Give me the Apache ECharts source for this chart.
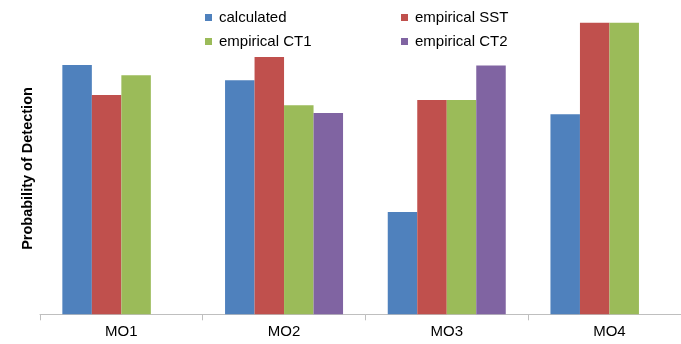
<!DOCTYPE html>
<html>
<head>
<meta charset="utf-8">
<script src="https://cdn.jsdelivr.net/npm/echarts@6/dist/echarts.min.js"></script>
<style>
  html, body { margin: 0; padding: 0; background: #fff; overflow: hidden; }
  /* the plot runs a little past the right edge of the window */
  #chart { width: 700px; height: 344px; }
</style>
</head>
<body>
<div id="chart"></div>
<script>
// Detection probability per method, for four test objects
const categories = ['MO1', 'MO2', 'MO3', 'MO4'];
const seriesNames = ['calculated', 'empirical SST', 'empirical CT1', 'empirical CT2'];
const calculated   = [0.855, 0.803, 0.351, 0.686];
const empiricalSST = [0.752, 0.882, 0.735, 1.0];
const empiricalCT1 = [0.820, 0.717, 0.735, 1.0];
const empiricalCT2 = [null, 0.690, 0.853, null];
const colors = ['#4F81BD', '#C0504D', '#9BBB59', '#8064A2'];

const values = [calculated, empiricalSST, empiricalCT1, empiricalCT2];
const font = 'Liberation Sans, sans-serif';

const chart = echarts.init(document.getElementById('chart'), null, { renderer: 'canvas' });

const legendCommon = {
  orient: 'vertical',
  itemWidth: 7,
  itemHeight: 7,
  itemGap: 9,
  icon: 'rect',
  padding: 0,
  selectedMode: false,
  textStyle: { fontFamily: font, fontSize: 15, color: '#000', padding: [0, 0, 0, 2] }
};

chart.setOption({
  animation: false,
  color: colors,
  legend: [
    Object.assign({}, legendCommon, { left: 205, top: 10, data: [seriesNames[0], seriesNames[2]] }),
    Object.assign({}, legendCommon, { left: 401, top: 10, data: [seriesNames[1], seriesNames[3]] })
  ],
  grid: { left: 40, top: 22.7, width: 650.8, height: 291.6, containLabel: false },
  xAxis: {
    type: 'category',
    data: categories,
    boundaryGap: true,
    axisLine: { lineStyle: { color: '#BFBFBF', width: 1 } },
    axisTick: { show: true, length: 6, lineStyle: { color: '#BFBFBF' } },
    axisLabel: { fontFamily: font, fontSize: 15, color: '#000', margin: 10 }
  },
  yAxis: {
    type: 'value',
    min: 0,
    max: 1,
    name: 'Probability of Detection',
    nameLocation: 'middle',
    nameRotate: 90,
    nameGap: 5,
    nameTextStyle: { fontFamily: font, fontSize: 14.5, fontWeight: 'bold', color: '#000' },
    axisLine: { show: false },
    axisTick: { show: false },
    axisLabel: { show: false },
    splitLine: { show: false }
  },
  series: seriesNames.map((name, i) => ({
    name: name,
    type: 'bar',
    data: values[i],
    barWidth: 29.5,
    barGap: '0%',
    itemStyle: { color: colors[i] }
  }))
});
</script>
</body>
</html>
